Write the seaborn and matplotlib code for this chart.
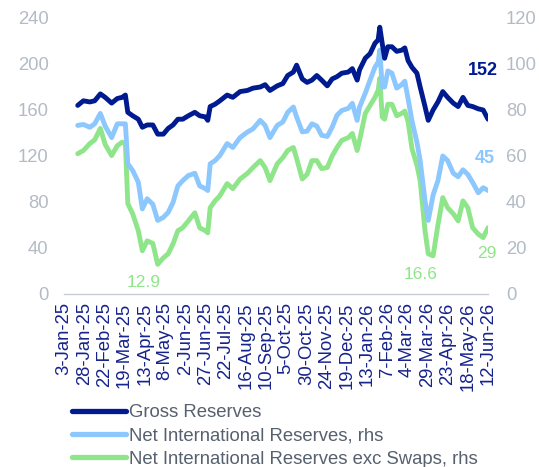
import matplotlib
matplotlib.use("Agg")
import matplotlib.pyplot as plt
from matplotlib.lines import Line2D
import seaborn as sns
import pandas as pd

# ---- data ----
dates = ["2025-01-20", "2025-01-27", "2025-02-04", "2025-02-10", "2025-02-17", "2025-02-23",
         "2025-03-03", "2025-03-10", "2025-03-16", "2025-03-20", "2025-03-23", "2025-03-29",
         "2025-04-05", "2025-04-10", "2025-04-16", "2025-04-23", "2025-04-29", "2025-05-06",
         "2025-05-12", "2025-05-18", "2025-05-24", "2025-05-30", "2025-06-06", "2025-06-14",
         "2025-06-20", "2025-06-27", "2025-06-30", "2025-07-03", "2025-07-09", "2025-07-15",
         "2025-07-24", "2025-07-31", "2025-08-09", "2025-08-18", "2025-08-25", "2025-09-03",
         "2025-09-09", "2025-09-15", "2025-09-24", "2025-10-01", "2025-10-07", "2025-10-14",
         "2025-10-18", "2025-10-25", "2025-10-31", "2025-11-06", "2025-11-12", "2025-11-18",
         "2025-11-25", "2025-12-01", "2025-12-07", "2025-12-13", "2025-12-21", "2025-12-26",
         "2026-01-01", "2026-01-04", "2026-01-11", "2026-01-17", "2026-01-23", "2026-01-27",
         "2026-01-29", "2026-02-01", "2026-02-04", "2026-02-08", "2026-02-13", "2026-02-19",
         "2026-02-25", "2026-03-01", "2026-03-05", "2026-03-10", "2026-03-16", "2026-03-20",
         "2026-03-26", "2026-03-30", "2026-04-05", "2026-04-11", "2026-04-17", "2026-04-23",
         "2026-04-30", "2026-05-06", "2026-05-12", "2026-05-18", "2026-05-24", "2026-05-31",
         "2026-06-06", "2026-06-12"]

gross_reserves = [164, 168, 167, 168, 174, 171, 166, 170, 171, 173, 158, 155,
                  152, 145, 147, 147, 139, 139, 144, 147, 152, 152, 155, 158,
                  155, 154, 151, 163, 165, 168, 173, 171, 176, 177, 179, 180,
                  182, 177, 181, 183, 190, 193, 199, 187, 184, 186, 190, 186,
                  181, 187, 189, 192, 193, 196, 186, 195, 205, 209, 218, 221,
                  232, 218, 205, 215, 215, 211, 212, 214, 203, 197, 192, 180,
                  163, 151, 160, 167, 176, 171, 166, 163, 171, 164, 163, 161,
                  160, 152]

nir_rhs = [73.3, 73.7, 72.5, 74.0, 78.5, 73.0, 68.0, 74.0, 74.0, 74.0, 56.6, 53.7,
           48.6, 37.0, 41.4, 39.0, 32.0, 33.3, 35.5, 39.8, 47.0, 49.3, 51.5, 52.5,
           47.0, 45.8, 45.0, 56.6, 58.0, 60.2, 65.4, 63.7, 68.0, 70.4, 71.8, 75.5,
           73.3, 68.0, 73.3, 74.8, 79.0, 81.3, 77.0, 70.5, 70.8, 74.0, 73.0, 69.0,
           68.5, 72.5, 77.7, 79.8, 80.7, 82.9, 75.5, 81.3, 87.3, 93.0, 98.6, 100.8,
           106.0, 90.0, 90.0, 97.0, 96.0, 89.5, 91.0, 92.5, 85.0, 75.0, 66.0, 58.0,
           40.5, 32.0, 43.0, 49.3, 60.0, 58.0, 52.5, 51.0, 54.0, 52.0, 48.5, 44.0,
           46.2, 45.0]

nir_exc_swaps_rhs = [61.0, 62.4, 65.4, 67.0, 72.0, 65.0, 60.2, 64.5, 66.0, 65.4, 39.3, 34.9,
                     27.5, 18.8, 23.1, 22.0, 12.9, 15.7, 17.5, 21.8, 27.5, 28.8, 31.8, 35.3,
                     28.8, 27.5, 26.6, 37.5, 40.5, 42.7, 48.0, 45.8, 50.0, 52.4, 55.0, 58.0,
                     55.0, 49.3, 56.6, 59.3, 62.4, 63.7, 59.0, 50.0, 52.0, 58.0, 58.0, 54.5,
                     55.0, 60.0, 63.7, 66.8, 68.0, 69.8, 62.4, 66.8, 78.5, 82.0, 85.5, 88.6,
                     93.8, 77.0, 76.0, 82.5, 82.5, 77.5, 78.5, 79.5, 75.0, 63.0, 56.0, 49.3,
                     27.5, 17.5, 16.6, 30.0, 41.9, 37.5, 34.9, 31.8, 40.5, 37.5, 28.8, 26.0,
                     24.5, 28.8]

series_names = ["Gross Reserves", "Net International Reserves, rhs",
                "Net International Reserves exc Swaps, rhs"]
left_ticks = [0, 40, 80, 120, 160, 200, 240]
right_ticks = [0, 20, 40, 60, 80, 100, 120]
x_start, x_end = "2025-01-03", "2026-06-12"

# ---- styling ----
C_GROSS = "#001a8f"
C_NIR = "#8cc7fd"
C_NIRX = "#8fe58a"
C_TICK = "#b3bbc6"
C_XLAB = "#15238c"
C_LEG = "#56606e"
C_AXIS = "#c8cdd5"

sns.set_style("white")
plt.rcParams["font.family"] = ["Liberation Sans", "DejaVu Sans"]

df = pd.DataFrame({"date": pd.to_datetime(dates),
                   "gross": gross_reserves,
                   "nir": nir_rhs,
                   "nirx": nir_exc_swaps_rhs})

fig = plt.figure(figsize=(5.39, 4.67), dpi=100)
ax = fig.add_axes([64 / 539, 1 - 294 / 467, (488 - 64) / 539, (294 - 18) / 467])
ax2 = ax.twinx()

LW = 3.5
sns.lineplot(data=df, x="date", y="gross", ax=ax, color=C_GROSS, linewidth=LW, legend=False)
sns.lineplot(data=df, x="date", y="nir", ax=ax2, color=C_NIR, linewidth=LW, legend=False, zorder=2)
sns.lineplot(data=df, x="date", y="nirx", ax=ax2, color=C_NIRX, linewidth=LW, legend=False, zorder=1)
ax.set_zorder(ax2.get_zorder() + 1)
ax.patch.set_visible(False)

ax.set_ylim(0, 240)
ax2.set_ylim(0, 120)
ax.set_yticks(left_ticks)
ax2.set_yticks(right_ticks)
ax.set_xlim(pd.Timestamp(x_start), pd.Timestamp(x_end))
xt = pd.date_range(x_start, x_end, freq="25D")
ax.set_xticks(xt)
ax.set_xticklabels([f"{d.day}-{d.strftime('%b-%y')}" for d in xt], rotation=90,
                   fontsize=13.3, color=C_XLAB)
ax.set_xlabel("")
ax.set_ylabel("")
ax2.set_ylabel("")

for a in (ax, ax2):
    for s in ("top", "left", "right", "bottom"):
        a.spines[s].set_visible(False)
ax.spines["bottom"].set_visible(True)
ax.spines["bottom"].set_color(C_AXIS)
ax.spines["bottom"].set_linewidth(1)

ax.tick_params(axis="x", direction="out", length=4, width=1, color=C_AXIS, pad=2)
ax.tick_params(axis="y", length=0, labelsize=13.3, labelcolor=C_TICK, pad=11)
ax2.tick_params(axis="y", length=0, labelsize=13.3, labelcolor=C_TICK, pad=13)
ax2.tick_params(axis="x", length=0)

# end / min annotations
ax.text(pd.Timestamp("2026-06-06"), 194, "152", color=C_GROSS, fontsize=13,
        fontweight="bold", ha="center", va="center")
ax2.text(pd.Timestamp("2026-06-08"), 59, "45", color=C_NIR, fontsize=13,
         fontweight="bold", ha="center", va="center")
ax2.text(pd.Timestamp("2026-06-10"), 17.5, "29", color=C_NIRX, fontsize=12.5,
         ha="center", va="center")
ax2.text(pd.Timestamp("2025-04-11"), 4.8, "12.9", color=C_NIRX, fontsize=12.5,
         ha="center", va="center")
ax2.text(pd.Timestamp("2026-03-20"), 8.3, "16.6", color=C_NIRX, fontsize=12.5,
         ha="center", va="center")

handles = [Line2D([0], [0], color=c, lw=3.8, solid_capstyle="round")
           for c in (C_GROSS, C_NIR, C_NIRX)]
leg = fig.legend(handles, series_names, loc="upper left",
                 bbox_to_anchor=(72 / 539, 1 - 404 / 467), frameon=False,
                 fontsize=13.3, handlelength=2.95, handletextpad=0.15,
                 labelspacing=0.34, borderpad=0, borderaxespad=0)
for t in leg.get_texts():
    t.set_color(C_LEG)

fig.savefig("out.png", dpi=100)
